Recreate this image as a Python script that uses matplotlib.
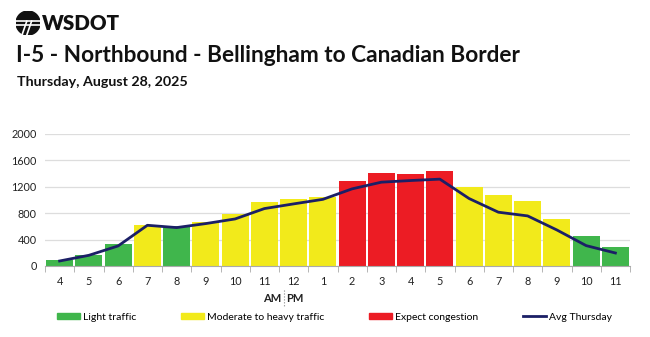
import matplotlib.pyplot as plt
from matplotlib.patches import Patch, Circle
from matplotlib.lines import Line2D

# hourly volumes, 4 AM .. 11 PM
hours = ['4', '5', '6', '7', '8', '9', '10', '11', '12', '1',
         '2', '3', '4', '5', '6', '7', '8', '9', '10', '11']
volume = [90, 172, 329, 622, 607, 663, 794, 977, 1022, 1042,
          1295, 1407, 1392, 1432, 1194, 1083, 987, 719, 450, 288]
avg_thursday = [76, 162, 304, 617, 582, 643, 713, 870, 941, 1010,
                1169, 1270, 1295, 1316, 1022, 815, 759, 546, 309, 197]
level = ['light', 'light', 'light', 'mod', 'light', 'mod', 'mod', 'mod', 'mod', 'mod',
         'cong', 'cong', 'cong', 'cong', 'mod', 'mod', 'mod', 'mod', 'light', 'light']
yticks = [0, 400, 800, 1200, 1600, 2000]

colors = {'light': '#40b64c', 'mod': '#f2ea1b', 'cong': '#ec1c24'}
line_color = '#1b1f66'

plt.rcParams['font.family'] = ['Lato', 'DejaVu Sans']

fig = plt.figure(figsize=(6.5, 3.37), dpi=100)
W, H = 650, 337

ax = fig.add_axes([45 / W, 1 - 266 / H, 585 / W, 132 / H])
x = list(range(len(hours)))
ax.bar(x, volume, width=0.92, color=[colors[l] for l in level], zorder=2)
ax.plot(x, avg_thursday, color=line_color, linewidth=2, zorder=3)

ax.set_xlim(-0.5, len(hours) - 0.5)
ax.set_ylim(0, 2000)
ax.set_yticks(yticks)
ax.set_yticklabels([str(v) for v in yticks], fontsize=7.8, color='#222222')
ax.grid(axis='y', color='#dddddd', linewidth=0.9, zorder=0)
ax.set_xticks(x)
ax.set_xticklabels(hours, fontsize=7.8, color='#222222')
ax.set_xticks([i - 0.5 for i in range(len(hours) + 1)], minor=True)
ax.tick_params(axis='x', which='major', length=0, pad=7)
ax.tick_params(axis='x', which='minor', length=4, color='#aaaaaa')
ax.tick_params(axis='y', length=0, pad=6)
for s in ['top', 'right', 'left']:
    ax.spines[s].set_visible(False)
ax.spines['bottom'].set_color('#aaaaaa')
ax.set_axisbelow(True)

# AM | PM marker
fig.text(281 / W, 1 - 298 / H, 'AM', ha='right', va='center', fontsize=8, fontweight='bold', color='#222222')
fig.text(286 / W, 1 - 298 / H, 'PM', ha='left', va='center', fontsize=8, fontweight='bold', color='#222222')
fig.add_artist(Line2D([283.5 / W, 283.5 / W], [1 - 290 / H, 1 - 307 / H],
                      color='#888888', linewidth=0.8, linestyle=':'))

# legend
handles = [Patch(color=colors['light'], label='Light traffic'),
           Patch(color=colors['mod'], label='Moderate to heavy traffic'),
           Patch(color=colors['cong'], label='Expect congestion'),
           Line2D([], [], color=line_color, linewidth=2, label='Avg Thursday')]
fig.legend(handles=handles, loc='center left', bbox_to_anchor=(57 / W, 1 - 317 / H),
           ncol=4, frameon=False, fontsize=7.5, handlelength=2.2, handleheight=0.6,
           handletextpad=0.3, columnspacing=4.3, borderaxespad=0, borderpad=0)

# header
logo = fig.add_axes([16 / W, 1 - 35 / H, 24 / W, 24 / H])
logo.set_xlim(-1, 1)
logo.set_ylim(-1, 1)
logo.set_aspect('equal')
logo.axis('off')
logo.add_patch(Circle((0, 0), 1, color='#111111'))
logo.plot([-1, 1], [0.15, 0.15], color='white', linewidth=1.2)
logo.plot([-1, 1], [-0.15, -0.15], color='white', linewidth=1.2)
logo.plot([-0.1, -0.5], [0.15, -1], color='white', linewidth=1.2)
logo.plot([0.3, -0.1], [0.15, -1], color='white', linewidth=1.2)
fig.text(42 / W, 1 - 24 / H, 'WSDOT', ha='left', va='center', fontsize=14.8, fontweight='heavy', color='#111111')

fig.text(16 / W, 1 - 56 / H, 'I-5 - Northbound - Bellingham to Canadian Border',
         ha='left', va='center', fontsize=16.3, fontweight='bold', color='#111111')
fig.text(17 / W, 1 - 82 / H, 'Thursday, August 28, 2025',
         ha='left', va='center', fontsize=10.3, fontweight='bold', color='#111111')

fig.savefig('out.png', dpi=100)
